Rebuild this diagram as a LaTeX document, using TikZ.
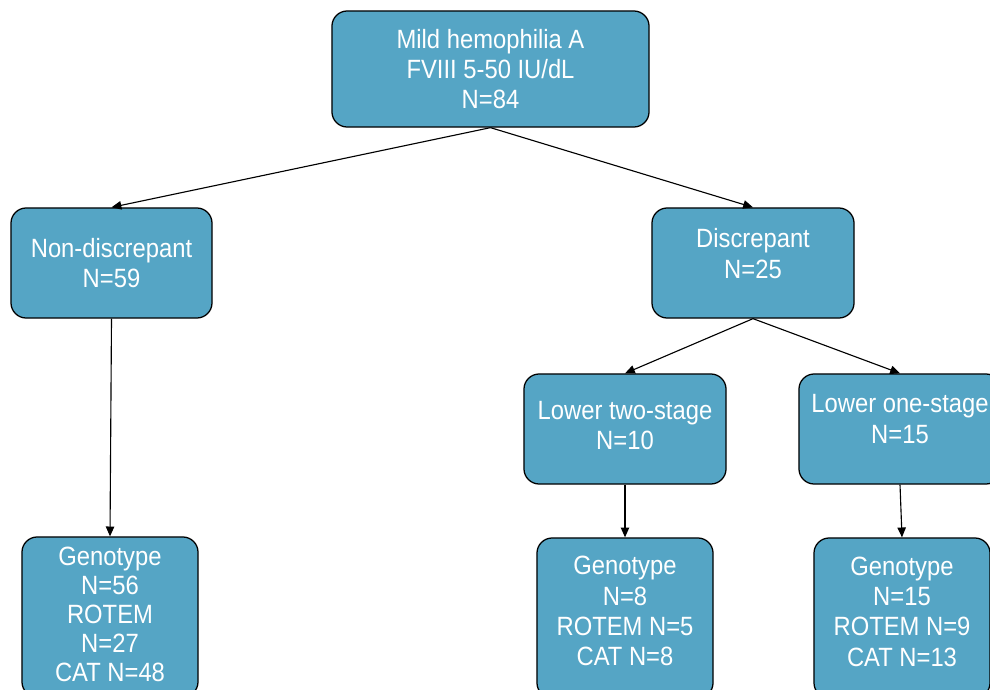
\documentclass[tikz,border=0pt]{standalone}
\usepackage{fontspec}
\setmainfont[FakeStretch=0.9]{Liberation Sans}
\usepackage{tikz}
\usetikzlibrary{arrows.meta}

\definecolor{boxblue}{RGB}{85,165,197}
\tikzset{
	flowbox/.style={rectangle, rounded corners=0.38cm, draw=black, line width=0.9pt,
		fill=boxblue, text=white, align=center, inner sep=0pt,
		font=\fontsize{18.8}{21.6}\selectfont},
	flowarrow/.style={-{Triangle[length=7pt,width=6pt]}, line width=0.8pt}
}

\begin{document}
\begin{tikzpicture}[x=0.025cm,y=-0.025cm]
		\clip (0,0) rectangle (990,689);
		\fill[white] (0,0) rectangle (990,689);
		\node[flowbox, minimum width=7.925cm, minimum height=2.9cm] (mild) at (490.5,69) {Mild hemophilia A\\FVIII 5-50 IU/dL\\N=84};
		\node[flowbox, minimum width=5.025cm, minimum height=2.75cm] (nondisc) at (111.5,263) {Non-discrepant\\N=59};
		\node[flowbox, minimum width=5.05cm, minimum height=2.75cm, text depth=0.48cm] (disc) at (753,263) {Discrepant\\N=25};
		\node[flowbox, minimum width=5.05cm, minimum height=2.75cm, text depth=0.18cm] (twostage) at (625,429) {Lower two-stage\\N=10};
		\node[flowbox, minimum width=5.05cm, minimum height=2.75cm, text depth=0.5cm] (onestage) at (900,429) {Lower one-stage\\N=15};
		\node[flowbox, minimum width=4.4cm, minimum height=4cm, text depth=0.12cm, font=\fontsize{18.8}{20.6}\selectfont] (genoleft) at (110,617) {Genotype\\N=56\\ROTEM\\N=27\\CAT N=48};
		\node[flowbox, minimum width=4.4cm, minimum height=4cm, text depth=0.35cm] (genomid) at (625,618) {Genotype\\N=8\\ROTEM N=5\\CAT N=8};
		\node[flowbox, minimum width=4.4cm, minimum height=4cm, text depth=0.33cm] (genoright) at (902,618) {Genotype\\N=15\\ROTEM N=9\\CAT N=13};
		\draw[flowarrow] (mild.south) -- (nondisc.north);
		\draw[flowarrow] (mild.south) -- (disc.north);
		\draw[flowarrow] (nondisc.south) -- (genoleft.north);
		\draw[flowarrow] (disc.south) -- (twostage.north);
		\draw[flowarrow] (disc.south) -- (onestage.north);
		\draw[flowarrow] (twostage.south) -- (genomid.north);
		\draw[flowarrow] (onestage.south) -- (genoright.north);
	\end{tikzpicture}
\end{document}
